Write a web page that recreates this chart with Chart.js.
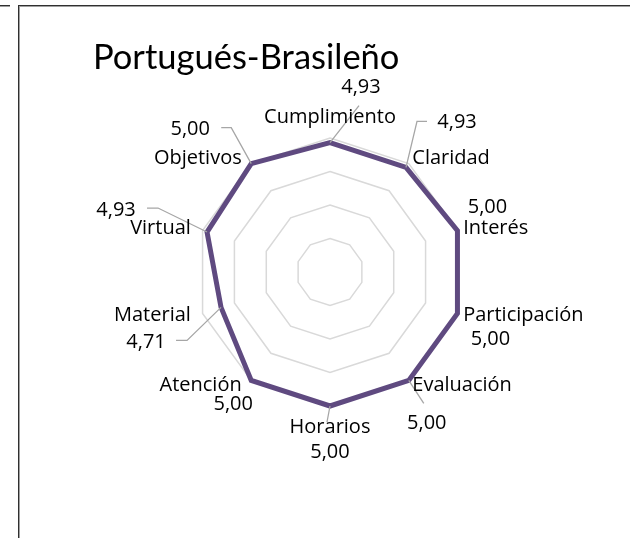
<!DOCTYPE html>
<html>
<head>
<meta charset="utf-8">
<script src="https://cdn.jsdelivr.net/npm/chart.js@4.4.1/dist/chart.umd.min.js"></script>
<style>
  html, body { margin: 0; padding: 0; background: #fff; overflow: hidden; }
  body { width: 630px; height: 538px; position: relative; }
  .frame {
    position: absolute; left: 18px; top: 5px; width: 700px; height: 700px;
    border-top: 1px solid #303030; border-left: 1px solid #303030;
    box-shadow: inset 1px 1px 0 #a0a0a0;
  }
  .frame-prev {
    position: absolute; left: 0; top: 5px; width: 10px; height: 0;
    border-top: 1px solid #303030; box-shadow: 0 1px 0 #a0a0a0;
  }
  canvas { position: absolute; left: 0; top: 0; }
</style>
</head>
<body>
<div class="frame-prev"></div>
<div class="frame"></div>
<canvas id="radar" width="630" height="538"></canvas>
<script>
const chartTitle = "Portugués-Brasileño";
const categories = ["Cumplimiento", "Claridad", "Interés", "Participación", "Evaluación",
                    "Horarios", "Atención", "Material", "Virtual", "Objetivos"];
const scores = [4.93, 4.93, 5.00, 5.00, 5.00, 5.00, 5.00, 4.71, 4.93, 5.00];
const axisMin = 3;
const axisMax = 5;
const axisStep = 0.5;

// where each value label sits, relative to its point, and its leader line
// (points relative to the label centre, drawn from the vertex outwards)
const valueLabelLayout = [
  { dx: 31, dy: -55, leader: [[-2, 18]] },
  { dx: 51, dy: -45, leader: [[-40, -1], [-30, -1]] },
  { dx: 30, dy: -23, leader: [] },
  { dx: 33, dy: 26, leader: [] },
  { dx: 18, dy: 43, leader: [[-3, -20]] },
  { dx: 0, dy: 46, leader: [[-3, -30]] },
  { dx: -18, dy: 24, leader: [] },
  { dx: -75, dy: 35, leader: [[41, -2], [30, -2]] },
  { dx: -91, dy: -22, leader: [[42, -2], [31, -2]] },
  { dx: -61, dy: -34, leader: [[41, -2], [31, -2]] }
];

const labelFont = "20px 'Open Sans', Lato, sans-serif";
const fmt = (v) => v.toFixed(2).replace(".", ",");

const radarLabels = {
  id: "radarLabels",
  afterDatasetsDraw(chart) {
    const { ctx } = chart;
    const scale = chart.scales.r;
    const pts = chart.getDatasetMeta(0).data;
    ctx.save();

    // leader lines
    ctx.strokeStyle = "#a6a6a6";
    ctx.lineWidth = 1.3;
    pts.forEach((pt, i) => {
      const lay = valueLabelLayout[i];
      if (!lay.leader.length) return;
      const cx = pt.x + lay.dx, cy = pt.y + lay.dy;
      ctx.beginPath();
      ctx.moveTo(pt.x, pt.y);
      lay.leader.forEach(([lx, ly]) => ctx.lineTo(cx + lx, cy + ly));
      ctx.stroke();
    });

    // value labels
    ctx.fillStyle = "#000";
    ctx.font = labelFont;
    ctx.textAlign = "center";
    ctx.textBaseline = "middle";
    pts.forEach((pt, i) => {
      const lay = valueLabelLayout[i];
      ctx.fillText(fmt(scores[i]), pt.x + lay.dx, pt.y + lay.dy);
    });

    // category names around the outer ring
    categories.forEach((name, i) => {
      const angle = scale.getIndexAngle(i);
      const s = Math.sin(angle), c = Math.cos(angle);
      const pole = Math.abs(s) < 0.01;
      const pos = scale.getPointPosition(i, scale.drawingArea + (pole ? 11 : 6));
      ctx.textAlign = pole ? "center" : (s > 0 ? "left" : "right");
      ctx.textBaseline = pole ? (c > 0 ? "bottom" : "top") : "middle";
      ctx.fillText(name, pos.x + (!pole && s < 0 ? -6 : 0), pos.y);
    });

    // title
    ctx.font = "34.5px Lato, 'Noto Sans', sans-serif";
    ctx.textAlign = "left";
    ctx.textBaseline = "alphabetic";
    ctx.fillText(chartTitle, 93, 69);
    ctx.restore();
  }
};

new Chart(document.getElementById("radar"), {
  type: "radar",
  data: {
    labels: categories,
    datasets: [{
      label: chartTitle,
      data: scores,
      borderColor: "#5f4a80",
      borderWidth: 5,
      borderJoinStyle: "miter",
      fill: false,
      pointRadius: 0,
      pointHoverRadius: 0,
      tension: 0
    }]
  },
  options: {
    responsive: false,
    animation: false,
    layout: { padding: { left: 196, right: 166, top: 138, bottom: 132 } },
    plugins: { legend: { display: false }, tooltip: { enabled: false } },
    scales: {
      r: {
        min: axisMin,
        max: axisMax,
        ticks: { stepSize: axisStep, display: false },
        grid: { color: "#d9d9d9", lineWidth: 1.5, circular: false },
        angleLines: { display: false },
        pointLabels: { display: false }
      }
    }
  },
  plugins: [radarLabels]
});
</script>
</body>
</html>
